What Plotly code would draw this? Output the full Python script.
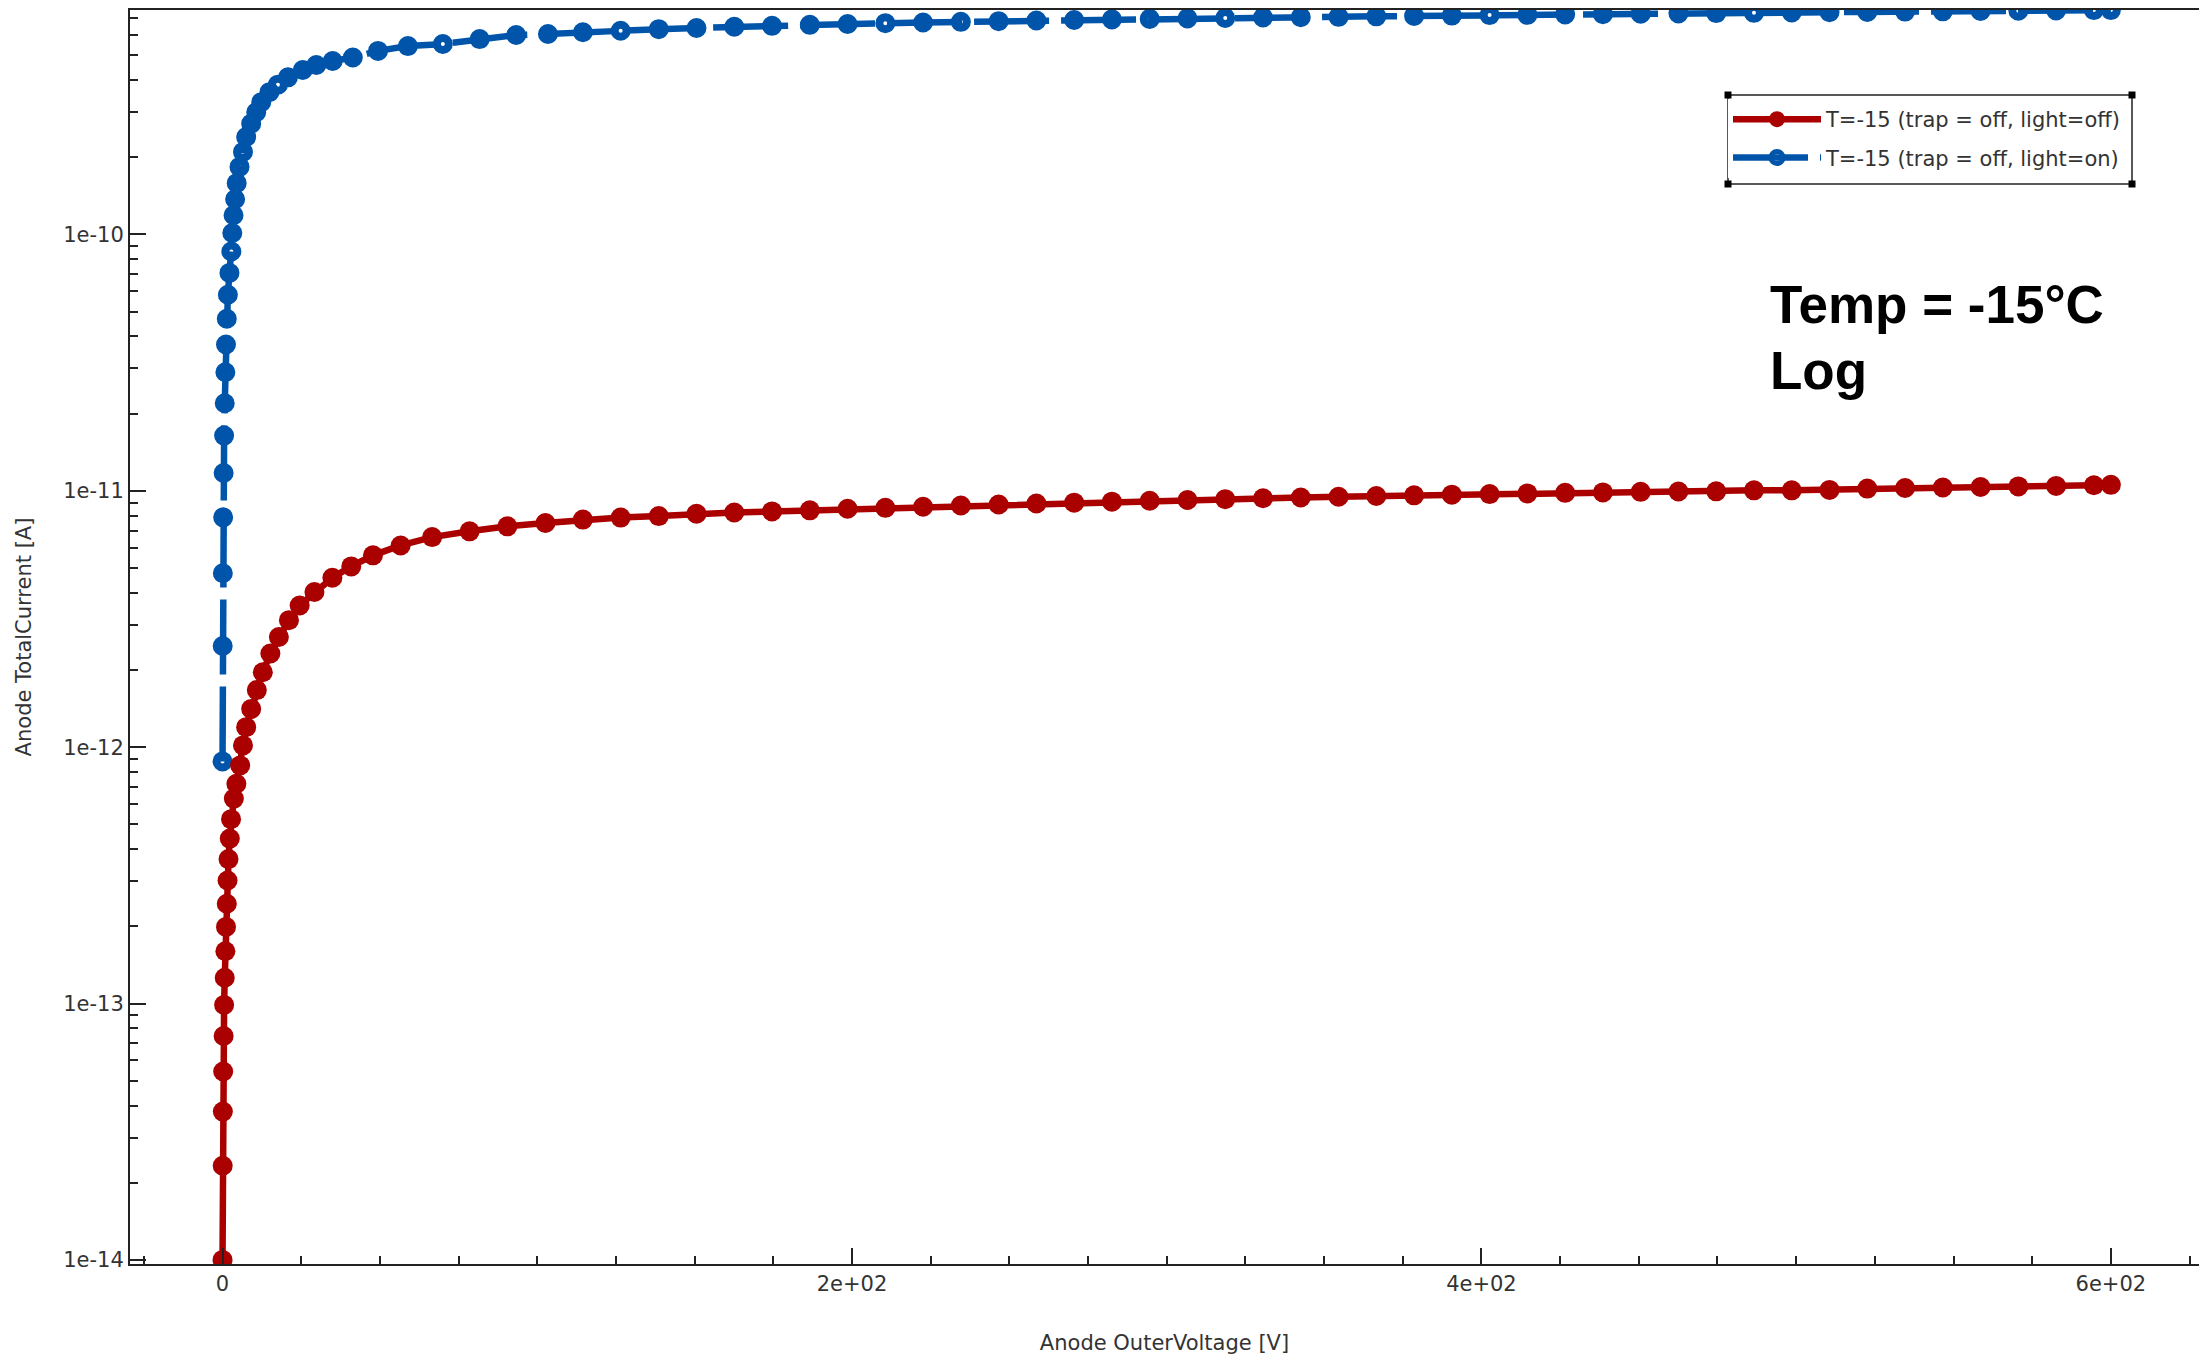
import plotly.graph_objects as go

# ---------------- data ----------------
voltage_dark = [0, 0.05, 0.1, 0.2, 0.35, 0.5, 0.7, 0.9, 1.1, 1.35, 1.6, 1.9, 2.3, 2.7, 3.6,
                4.4, 5.6, 6.5, 7.5, 9.1, 10.9, 12.8, 15.2, 17.9, 21.1, 24.5, 29.2, 34.9, 40.9,
                47.8, 56.6, 66.6, 78.5, 90.5, 102.6, 114.5, 126.5, 138.6, 150.6,
                162.6, 174.6, 186.6, 198.6, 210.6, 222.6, 234.6, 246.6, 258.6, 270.6,
                282.6, 294.6, 306.6, 318.6, 330.6, 342.6, 354.6, 366.6, 378.6, 390.6,
                402.6, 414.6, 426.6, 438.6, 450.6, 462.6, 474.6, 486.6, 498.6, 510.6,
                522.6, 534.6, 546.6, 558.6, 570.6, 582.6, 594.6, 600]
current_dark = [1.0e-14, 2.33e-14, 3.79e-14, 5.43e-14, 7.47e-14, 9.88e-14, 1.26e-13, 1.60e-13,
                1.99e-13, 2.45e-13, 3.02e-13, 3.66e-13, 4.40e-13, 5.24e-13, 6.30e-13,
                7.20e-13, 8.49e-13, 1.016e-12, 1.197e-12, 1.41e-12, 1.67e-12, 1.96e-12, 2.32e-12,
                2.69e-12, 3.13e-12, 3.57e-12, 4.03e-12, 4.58e-12, 5.07e-12, 5.60e-12, 6.12e-12,
                6.60e-12, 6.95e-12, 7.27e-12, 7.49e-12, 7.72e-12, 7.86e-12, 7.97e-12, 8.14e-12,
                8.23e-12, 8.31e-12, 8.39e-12, 8.51e-12, 8.58e-12, 8.67e-12, 8.76e-12, 8.84e-12,
                8.92e-12, 8.99e-12, 9.07e-12, 9.15e-12, 9.21e-12, 9.28e-12, 9.35e-12, 9.42e-12,
                9.48e-12, 9.54e-12, 9.60e-12, 9.66e-12, 9.71e-12, 9.77e-12, 9.82e-12, 9.86e-12,
                9.91e-12, 9.94e-12, 9.95e-12, 1.004e-11, 1.004e-11, 1.008e-11, 1.02e-11,
                1.026e-11, 1.03e-11, 1.035e-11, 1.04e-11, 1.045e-11, 1.051e-11, 1.055e-11]

voltage_light = [0, 0.05, 0.1, 0.2, 0.35, 0.5, 0.7, 0.9, 1.1, 1.35, 1.7, 2.2, 2.8, 3.1, 3.5,
                 4.0, 4.5, 5.4, 6.5, 7.5, 9.1, 10.7, 12.3, 14.9, 17.6, 20.8, 25.5, 29.8, 35.0,
                 41.4, 49.4, 58.9, 70.0, 81.7, 93.3, 103.4, 114.5, 126.5, 138.6, 150.6,
                 162.6, 174.6, 186.6, 198.6, 210.6, 222.6, 234.6, 246.6, 258.6, 270.6,
                 282.6, 294.6, 306.6, 318.6, 330.6, 342.6, 354.6, 366.6, 378.6, 390.6,
                 402.6, 414.6, 426.6, 438.6, 450.6, 462.6, 474.6, 486.6, 498.6, 510.6,
                 522.6, 534.6, 546.6, 558.6, 570.6, 582.6, 594.6, 600]
current_light = [8.80e-13, 2.48e-12, 4.77e-12, 7.88e-12, 1.174e-11, 1.642e-11, 2.195e-11, 2.90e-11,
                 3.72e-11, 4.69e-11, 5.82e-11, 7.08e-11, 8.58e-11, 1.013e-10, 1.188e-10,
                 1.372e-10, 1.585e-10, 1.834e-10, 2.099e-10, 2.399e-10, 2.705e-10, 2.998e-10,
                 3.28e-10, 3.59e-10, 3.84e-10, 4.10e-10, 4.38e-10, 4.58e-10, 4.75e-10, 4.90e-10,
                 5.20e-10, 5.43e-10, 5.53e-10, 5.78e-10, 6.00e-10, 6.05e-10,
                 6.15e-10, 6.23e-10, 6.32e-10, 6.39e-10, 6.46e-10, 6.51e-10, 6.57e-10, 6.62e-10,
                 6.67e-10, 6.71e-10, 6.75e-10, 6.79e-10, 6.83e-10, 6.86e-10, 6.90e-10, 6.93e-10,
                 6.96e-10, 6.99e-10, 7.02e-10, 7.04e-10, 7.06e-10, 7.09e-10, 7.12e-10, 7.14e-10,
                 7.17e-10, 7.19e-10, 7.21e-10, 7.23e-10, 7.26e-10, 7.28e-10, 7.30e-10, 7.32e-10,
                 7.34e-10, 7.36e-10, 7.38e-10, 7.40e-10, 7.42e-10, 7.44e-10, 7.46e-10, 7.48e-10,
                 7.50e-10, 7.50e-10]

series_names = ["T=-15 (trap = off, light=off)", "T=-15 (trap = off, light=on)"]
x_tickvals = [0, 200, 400, 600]
x_ticktext = ["0", "2e+02", "4e+02", "6e+02"]
y_tickvals = [1e-14, 1e-13, 1e-12, 1e-11, 1e-10]
y_ticktext = ["1e-14", "1e-13", "1e-12", "1e-11", "1e-10"]
annotation_lines = ["Temp = -15°C", "Log"]

RED = "#AA0000"
BLUE = "#0055AA"
AXIS = "#222222"
TICK_FONT = dict(family="DejaVu Sans", size=21, color="#333333")

# page geometry (pixels)
W, H = 2199, 1355
ML, MR, MT, MB = 130, 0, 10, 91
PW, PH = W - ML - MR, H - MT - MB


def px(x):
    return (x - ML) / PW


def py(y):
    return (H - MB - y) / PH


fig = go.Figure()

fig.add_trace(go.Scatter(
    x=voltage_light, y=current_light, mode="lines+markers", name=series_names[1],
    line=dict(color=BLUE, width=6.5, dash="75px,12px"),
    marker=dict(symbol="circle-open", size=12, color=BLUE, line=dict(width=8, color=BLUE)),
    legendrank=2, legendgroup="b",
))
fig.add_trace(go.Scatter(
    x=voltage_dark, y=current_dark, mode="lines+markers", name=series_names[0],
    line=dict(color=RED, width=6.5),
    marker=dict(symbol="circle", size=20, color=RED),
    legendrank=1, legendgroup="a",
))

minor_y = [m * 10.0 ** e for e in range(-15, -9) for m in range(2, 10)]

fig.update_xaxes(
    range=[-29.4, 628.0], showline=True, linecolor=AXIS, linewidth=2, mirror=True,
    ticks="inside", ticklen=16, tickwidth=1.5, tickcolor=AXIS,
    tickvals=x_tickvals, ticktext=x_ticktext, tickfont=TICK_FONT,
    minor=dict(ticks="inside", ticklen=8, tickwidth=1.5, tickcolor=AXIS, dtick=25, tick0=0),
    showgrid=False, zeroline=False,
    title=dict(text="Anode OuterVoltage [V]", font=TICK_FONT, standoff=42),
)
fig.update_yaxes(
    type="log", range=[-14.016, -9.1245], showline=True, linecolor=AXIS, linewidth=2,
    ticks="inside", ticklen=16, tickwidth=1.5, tickcolor=AXIS,
    tickvals=y_tickvals, ticktext=y_ticktext, tickfont=TICK_FONT,
    minor=dict(ticks="inside", ticklen=8, tickwidth=1.5, tickcolor=AXIS, tickvals=minor_y),
    showgrid=False, zeroline=False,
    title=dict(text="Anode TotalCurrent [A]", font=TICK_FONT, standoff=26),
)

# text block
fig.add_annotation(x=px(1768), y=py(304), xref="paper", yref="paper",
                   xanchor="left", yanchor="middle", showarrow=False,
                   text=annotation_lines[0],
                   font=dict(family="Liberation Sans", size=53, color="black", weight="bold"))
fig.add_annotation(x=px(1768), y=py(371), xref="paper", yref="paper",
                   xanchor="left", yanchor="middle", showarrow=False,
                   text=annotation_lines[1],
                   font=dict(family="Liberation Sans", size=53, color="black", weight="bold"))

# legend frame with corner handles
bx0, by0, bx1, by1 = 1728, 95, 2132, 184
shapes = [dict(type="rect", xref="paper", yref="paper",
               x0=px(bx0), x1=px(bx1), y0=py(by1), y1=py(by0),
               line=dict(color=AXIS, width=1.5), fillcolor="rgba(0,0,0,0)", layer="above")]
hs = 3.5
for cx in (bx0, bx1):
    for cy in (by0, by1):
        shapes.append(dict(type="rect", xref="paper", yref="paper",
                           x0=px(cx - hs), x1=px(cx + hs), y0=py(cy + hs), y1=py(cy - hs),
                           line=dict(width=0), fillcolor="black", layer="above"))

fig.update_layout(
    width=W, height=H,
    margin=dict(l=ML, r=MR, t=MT, b=MB),
    paper_bgcolor="white", plot_bgcolor="white",
    showlegend=True,
    shapes=shapes,
    legend=dict(x=px(bx0), y=py(99), xanchor="left", yanchor="top",
                borderwidth=0, bgcolor="white",
                font=dict(family="DejaVu Sans", size=21, color="#333333"),
                tracegroupgap=8, itemwidth=88),
)

fig.write_html("out.html", config={"displayModeBar": False},
               post_script="document.body.style.margin='0';")
